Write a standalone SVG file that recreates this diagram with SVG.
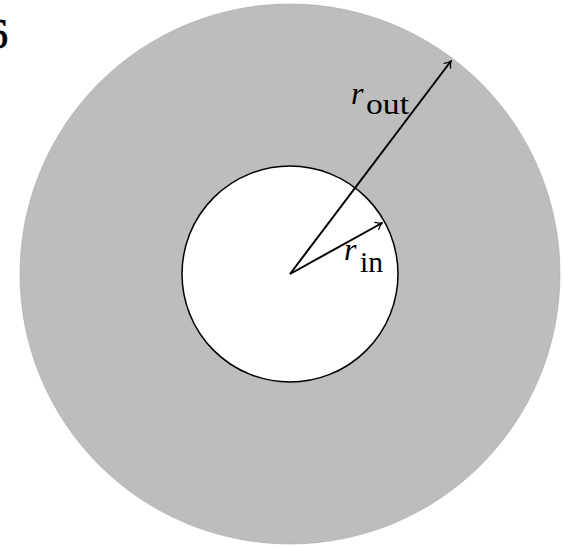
<svg xmlns="http://www.w3.org/2000/svg" width="571" height="548" viewBox="0 0 571 548">
<defs>
<style>
.lbl{font-family:"Liberation Serif","DejaVu Serif",serif;fill:#000}
.arr{stroke:#000;stroke-width:2;fill:none;marker-end:url(#tip)}
</style>
<marker id="tip" viewBox="-6 -5 8 10" refX="1" refY="0" markerWidth="8" markerHeight="10" markerUnits="userSpaceOnUse" orient="auto">
<path d="M-5,-4 Q-2,-1 1,0 Q-2,1 -5,4" fill="none" stroke="#000" stroke-width="1.3" stroke-linecap="round"/>
</marker>
</defs>
<rect width="571" height="548" fill="#fff"/>
<text class="lbl" x="-13" y="48" font-size="42" stroke="#000" stroke-width="0.8">6</text>
<g id="outer">
<circle cx="290" cy="274" r="270" fill="#bdbdbd" stroke="#a8a8a8" stroke-width="0.6"/>
</g>
<g id="inner">
<circle cx="290" cy="274" r="108" fill="#fff" stroke="#000" stroke-width="1.5"/>
</g>
<g id="connectors">
<line class="arr" x1="290" y1="274" x2="451" y2="61"/>
<line class="arr" x1="290" y1="274" x2="382" y2="223"/>
</g>
<g id="label-rout">
<text class="lbl" x="351" y="104" font-size="32" font-style="italic">r</text>
<text class="lbl" x="366" y="114" font-size="29" textLength="43" lengthAdjust="spacingAndGlyphs">out</text>
</g>
<g id="label-rin">
<text class="lbl" x="344" y="260" font-size="32" font-style="italic">r</text>
<text class="lbl" x="360" y="272" font-size="29" textLength="23" lengthAdjust="spacingAndGlyphs">in</text>
</g>
</svg>
